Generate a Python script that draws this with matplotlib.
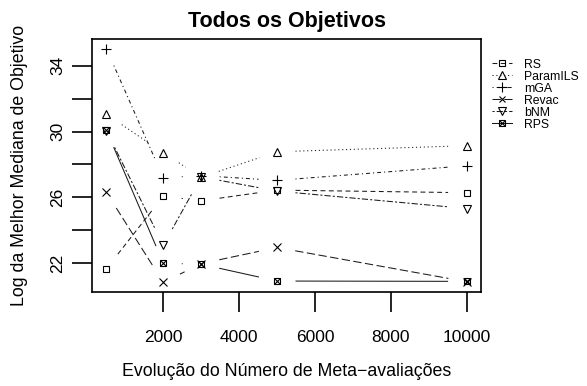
import numpy as np
import matplotlib
matplotlib.use("Agg")
import matplotlib.pyplot as plt
from matplotlib.lines import Line2D
from matplotlib.legend_handler import HandlerTuple

plt.rcParams['font.family'] = ['Liberation Sans', 'DejaVu Sans']
plt.rcParams['lines.scale_dashes'] = False

# ---- data ----
evals = [500, 2000, 3000, 5000, 10000]
rs = [21.66, 26.07, 25.79, 26.44, 26.28]
paramils = [31.05, 28.71, 27.22, 28.77, 29.14]
mga = [35.04, 27.19, 27.32, 27.03, 27.92]
revac = [26.30, 20.83, 21.97, 22.95, 20.87]
bnm = [30.04, 23.09, 27.24, 26.38, 25.32]
rps = [30.08, 22.00, 21.93, 20.91, 20.89]

series_names = ["RS", "ParamILS", "mGA", "Revac", "bNM", "RPS"]
series_vals = [rs, paramils, mga, revac, bnm, rps]

title = "Todos os Objetivos"
xlabel = "Evolução do Número de Meta\u2212avaliações"
ylabel = "Log da Melhor Mediana de Objetivo"
xticks = [2000, 4000, 6000, 8000, 10000]
yticks = [22, 24, 26, 28, 30, 32, 34]
ytick_labels = ["22", "", "26", "", "30", "", "34"]

# ---- styles ----
dashes = {
    "RS": (0, (3.5, 2.5)),
    "ParamILS": (0, (0.8, 2.0)),
    "mGA": (0, (0.8, 2.2, 2.8, 2.2)),
    "Revac": (0, (6.0, 2.5)),
    "bNM": (0, (1.5, 1.5, 4.5, 1.5)),
    "RPS": "-",
}
markers = {
    "RS": [("s", 4.8)],
    "ParamILS": [("^", 5.8)],
    "mGA": [("+", 7.5)],
    "Revac": [("x", 5.2)],
    "bNM": [("v", 5.8)],
    "RPS": [("s", 4.8), ("x", 4.2)],
}

W, H = 587, 386
fig = plt.figure(figsize=(W / 100, H / 100), dpi=100)
ax = fig.add_axes([92 / W, 1 - 291.7 / H, (481 - 92) / W, (291.7 - 39.3) / H])

allx = np.array(evals, dtype=float)
ally = np.concatenate([np.array(v, dtype=float) for v in series_vals])
xr = allx.max() - allx.min()
yr = ally.max() - ally.min()
ax.set_xlim(allx.min() - 0.04 * xr, allx.max() + 0.04 * xr)
ax.set_ylim(ally.min() - 0.04 * yr, ally.max() + 0.04 * yr)

lw = 0.75
col = "#1a1a1a"


def draw_gapped(x, y, ls, gap=18.5):
    T = ax.transData
    pts = T.transform(np.column_stack([x, y]))
    inv = T.inverted()
    for i in range(len(pts) - 1):
        p0, p1 = pts[i], pts[i + 1]
        d = p1 - p0
        L = np.hypot(*d)
        if L <= 2 * gap:
            continue
        u = d / L
        seg = inv.transform(np.array([p0 + u * gap, p1 - u * gap]))
        ax.plot(seg[:, 0], seg[:, 1], color=col, lw=lw, linestyle=ls,
                solid_capstyle="butt", dash_capstyle="butt")


handles = []
for name, vals in zip(series_names, series_vals):
    draw_gapped(evals, vals, dashes[name])
    parts = [Line2D([], [], color=col, lw=lw, linestyle=dashes[name])]
    for m, ms in markers[name]:
        ax.plot(evals, vals, linestyle="none", marker=m, markersize=ms,
                markerfacecolor="none", markeredgecolor="black", markeredgewidth=0.8)
        parts.append(Line2D([], [], linestyle="none", marker=m, markersize=ms * 0.95,
                            markerfacecolor="none", markeredgecolor="black",
                            markeredgewidth=0.8))
    handles.append(tuple(parts))

for s in ax.spines.values():
    s.set_linewidth(1.2)

ax.set_xticks(xticks)
ax.set_xticklabels([str(t) for t in xticks])
ax.set_yticks(yticks)
ax.set_yticklabels(ytick_labels, rotation=90, va="center")
ax.tick_params(axis="both", direction="out", length=14.4, width=1.2, labelsize=12.5)
ax.tick_params(axis="x", pad=13)
ax.tick_params(axis="y", pad=4.8)

fig.text(286.5 / W, 1 - 26.7 / H, title, ha="center", va="baseline",
         fontsize=15.5, fontweight="bold")
fig.text(286.5 / W, 1 - 376.5 / H, xlabel, ha="center", va="baseline", fontsize=12.8)
fig.text(20 / W, 1 - 165.5 / H, ylabel, ha="center", va="center", rotation=90, fontsize=12.8)

fs = 8.8
fig.legend(handles, series_names, handler_map={tuple: HandlerTuple(ndivide=1)},
           loc="upper left", bbox_to_anchor=(492 / W, 1 - 58.5 / H),
           bbox_transform=fig.transFigure, frameon=False, fontsize=fs,
           borderpad=0, borderaxespad=0, handlelength=1.65, handletextpad=1.0,
           labelspacing=0.0)

fig.savefig("out.png", dpi=100)
